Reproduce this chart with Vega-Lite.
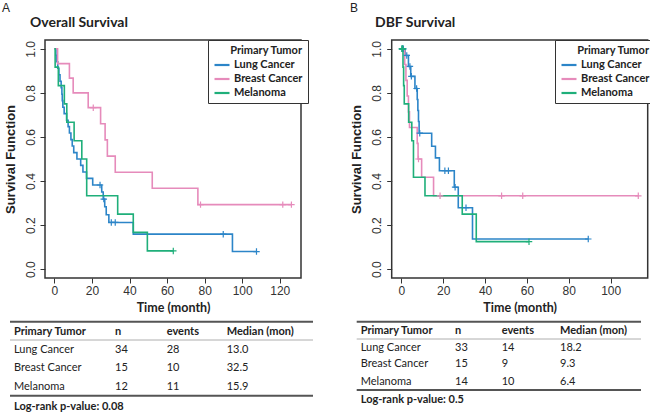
{
  "$schema": "https://vega.github.io/schema/vega-lite/v6.json",
  "width": 650,
  "height": 414,
  "padding": 0,
  "autosize": {"type": "none"},
  "background": "white",
  "config": {"view": {"stroke": null}, "font": "Lato", "axis": {"grid": false, "domain": false}},
  "datasets": {
    "osCurves": [
      {"group": "Lung Cancer", "time": 0, "surv": 1},
      {"group": "Lung Cancer", "time": 0.8, "surv": 0.971},
      {"group": "Lung Cancer", "time": 1.3, "surv": 0.941},
      {"group": "Lung Cancer", "time": 1.8, "surv": 0.912},
      {"group": "Lung Cancer", "time": 2.4, "surv": 0.882},
      {"group": "Lung Cancer", "time": 3.0, "surv": 0.853},
      {"group": "Lung Cancer", "time": 3.6, "surv": 0.824},
      {"group": "Lung Cancer", "time": 4.0, "surv": 0.794},
      {"group": "Lung Cancer", "time": 4.2, "surv": 0.765},
      {"group": "Lung Cancer", "time": 4.5, "surv": 0.735},
      {"group": "Lung Cancer", "time": 5.2, "surv": 0.706},
      {"group": "Lung Cancer", "time": 6.5, "surv": 0.676},
      {"group": "Lung Cancer", "time": 7.3, "surv": 0.647},
      {"group": "Lung Cancer", "time": 8.0, "surv": 0.618},
      {"group": "Lung Cancer", "time": 8.8, "surv": 0.588},
      {"group": "Lung Cancer", "time": 9.5, "surv": 0.559},
      {"group": "Lung Cancer", "time": 10.3, "surv": 0.529},
      {"group": "Lung Cancer", "time": 12.0, "surv": 0.5},
      {"group": "Lung Cancer", "time": 14.0, "surv": 0.471},
      {"group": "Lung Cancer", "time": 15.2, "surv": 0.441},
      {"group": "Lung Cancer", "time": 17.1, "surv": 0.412},
      {"group": "Lung Cancer", "time": 20.4, "surv": 0.382},
      {"group": "Lung Cancer", "time": 25.2, "surv": 0.35},
      {"group": "Lung Cancer", "time": 26.0, "surv": 0.318},
      {"group": "Lung Cancer", "time": 26.8, "surv": 0.283},
      {"group": "Lung Cancer", "time": 27.6, "surv": 0.247},
      {"group": "Lung Cancer", "time": 29.0, "surv": 0.212},
      {"group": "Lung Cancer", "time": 42.0, "surv": 0.159},
      {"group": "Lung Cancer", "time": 94.8, "surv": 0.08},
      {"group": "Lung Cancer", "time": 107.6, "surv": 0.08},
      {"group": "Breast Cancer", "time": 0, "surv": 1},
      {"group": "Breast Cancer", "time": 1.7, "surv": 0.933},
      {"group": "Breast Cancer", "time": 8.0, "surv": 0.867},
      {"group": "Breast Cancer", "time": 10.0, "surv": 0.8},
      {"group": "Breast Cancer", "time": 18.0, "surv": 0.733},
      {"group": "Breast Cancer", "time": 24.6, "surv": 0.66},
      {"group": "Breast Cancer", "time": 27.0, "surv": 0.587},
      {"group": "Breast Cancer", "time": 28.2, "surv": 0.513},
      {"group": "Breast Cancer", "time": 32.4, "surv": 0.44},
      {"group": "Breast Cancer", "time": 52.1, "surv": 0.367},
      {"group": "Breast Cancer", "time": 76.4, "surv": 0.293},
      {"group": "Breast Cancer", "time": 126.2, "surv": 0.293},
      {"group": "Melanoma", "time": 0, "surv": 1},
      {"group": "Melanoma", "time": 0.4, "surv": 0.917},
      {"group": "Melanoma", "time": 2.1, "surv": 0.833},
      {"group": "Melanoma", "time": 5.3, "surv": 0.75},
      {"group": "Melanoma", "time": 6.6, "surv": 0.667},
      {"group": "Melanoma", "time": 10.5, "surv": 0.583},
      {"group": "Melanoma", "time": 14.6, "surv": 0.5},
      {"group": "Melanoma", "time": 17.2, "surv": 0.333},
      {"group": "Melanoma", "time": 33.7, "surv": 0.25},
      {"group": "Melanoma", "time": 42.0, "surv": 0.167},
      {"group": "Melanoma", "time": 49.5, "surv": 0.083},
      {"group": "Melanoma", "time": 63.3, "surv": 0.083}
    ],
    "osCensor": [
      {"group": "Lung Cancer", "time": 24.3, "surv": 0.382},
      {"group": "Lung Cancer", "time": 26.3, "surv": 0.318},
      {"group": "Lung Cancer", "time": 30.3, "surv": 0.212},
      {"group": "Lung Cancer", "time": 32.4, "surv": 0.212},
      {"group": "Lung Cancer", "time": 89.9, "surv": 0.159},
      {"group": "Lung Cancer", "time": 107.6, "surv": 0.08},
      {"group": "Breast Cancer", "time": 20.7, "surv": 0.733},
      {"group": "Breast Cancer", "time": 77.8, "surv": 0.293},
      {"group": "Breast Cancer", "time": 121.6, "surv": 0.293},
      {"group": "Breast Cancer", "time": 126.2, "surv": 0.293},
      {"group": "Melanoma", "time": 63.3, "surv": 0.083}
    ],
    "dbfCurves": [
      {"group": "Lung Cancer", "time": 0, "surv": 1},
      {"group": "Lung Cancer", "time": 1.8, "surv": 0.97},
      {"group": "Lung Cancer", "time": 3.4, "surv": 0.92},
      {"group": "Lung Cancer", "time": 4.5, "surv": 0.875},
      {"group": "Lung Cancer", "time": 6.5, "surv": 0.82},
      {"group": "Lung Cancer", "time": 7.6, "surv": 0.77},
      {"group": "Lung Cancer", "time": 7.9, "surv": 0.72},
      {"group": "Lung Cancer", "time": 8.2, "surv": 0.67},
      {"group": "Lung Cancer", "time": 8.5, "surv": 0.617},
      {"group": "Lung Cancer", "time": 14.5, "surv": 0.558},
      {"group": "Lung Cancer", "time": 16.3, "surv": 0.505},
      {"group": "Lung Cancer", "time": 18.2, "surv": 0.447},
      {"group": "Lung Cancer", "time": 25.3, "surv": 0.372},
      {"group": "Lung Cancer", "time": 27.2, "surv": 0.279},
      {"group": "Lung Cancer", "time": 34.0, "surv": 0.137},
      {"group": "Lung Cancer", "time": 89.3, "surv": 0.137},
      {"group": "Breast Cancer", "time": 0, "surv": 1},
      {"group": "Breast Cancer", "time": 1.6, "surv": 0.929},
      {"group": "Breast Cancer", "time": 2.2, "surv": 0.857},
      {"group": "Breast Cancer", "time": 2.8, "surv": 0.786},
      {"group": "Breast Cancer", "time": 3.4, "surv": 0.714},
      {"group": "Breast Cancer", "time": 3.9, "surv": 0.643},
      {"group": "Breast Cancer", "time": 7.6, "surv": 0.571},
      {"group": "Breast Cancer", "time": 8.0, "surv": 0.5},
      {"group": "Breast Cancer", "time": 9.7, "surv": 0.417},
      {"group": "Breast Cancer", "time": 15.4, "surv": 0.333},
      {"group": "Breast Cancer", "time": 113.2, "surv": 0.333},
      {"group": "Melanoma", "time": 0, "surv": 1},
      {"group": "Melanoma", "time": 0.8, "surv": 0.917},
      {"group": "Melanoma", "time": 1.1, "surv": 0.833},
      {"group": "Melanoma", "time": 1.4, "surv": 0.75},
      {"group": "Melanoma", "time": 3.5, "surv": 0.667},
      {"group": "Melanoma", "time": 5.0, "surv": 0.583},
      {"group": "Melanoma", "time": 5.8, "surv": 0.417},
      {"group": "Melanoma", "time": 11.3, "surv": 0.333},
      {"group": "Melanoma", "time": 29.1, "surv": 0.25},
      {"group": "Melanoma", "time": 35.8, "surv": 0.125},
      {"group": "Melanoma", "time": 61.0, "surv": 0.125}
    ],
    "dbfCensor": [
      {"group": "Lung Cancer", "time": 0.3, "surv": 1},
      {"group": "Lung Cancer", "time": 0.6, "surv": 1},
      {"group": "Lung Cancer", "time": 1.0, "surv": 1},
      {"group": "Lung Cancer", "time": 2.6, "surv": 0.97},
      {"group": "Lung Cancer", "time": 4.1, "surv": 0.92},
      {"group": "Lung Cancer", "time": 4.8, "surv": 0.875},
      {"group": "Lung Cancer", "time": 7.3, "surv": 0.82},
      {"group": "Lung Cancer", "time": 8.8, "surv": 0.617},
      {"group": "Lung Cancer", "time": 20.8, "surv": 0.447},
      {"group": "Lung Cancer", "time": 22.5, "surv": 0.447},
      {"group": "Lung Cancer", "time": 25.7, "surv": 0.372},
      {"group": "Lung Cancer", "time": 30.9, "surv": 0.279},
      {"group": "Lung Cancer", "time": 89.3, "surv": 0.137},
      {"group": "Breast Cancer", "time": 8.2, "surv": 0.5},
      {"group": "Breast Cancer", "time": 18.5, "surv": 0.333},
      {"group": "Breast Cancer", "time": 47.9, "surv": 0.333},
      {"group": "Breast Cancer", "time": 58.0, "surv": 0.333},
      {"group": "Breast Cancer", "time": 113.2, "surv": 0.333},
      {"group": "Melanoma", "time": 0.3, "surv": 1},
      {"group": "Melanoma", "time": 0.5, "surv": 1},
      {"group": "Melanoma", "time": 0.7, "surv": 1},
      {"group": "Melanoma", "time": 61.0, "surv": 0.125}
    ],
    "tableA": [
      {"row": 0, "col": 0, "text": "Primary Tumor", "bold": true},
      {"row": 0, "col": 1, "text": "n", "bold": true},
      {"row": 0, "col": 2, "text": "events", "bold": true},
      {"row": 0, "col": 3, "text": "Median (mon)", "bold": true},
      {"row": 1, "col": 0, "text": "Lung Cancer", "bold": false},
      {"row": 1, "col": 1, "text": "34", "bold": false},
      {"row": 1, "col": 2, "text": "28", "bold": false},
      {"row": 1, "col": 3, "text": "13.0", "bold": false},
      {"row": 2, "col": 0, "text": "Breast Cancer", "bold": false},
      {"row": 2, "col": 1, "text": "15", "bold": false},
      {"row": 2, "col": 2, "text": "10", "bold": false},
      {"row": 2, "col": 3, "text": "32.5", "bold": false},
      {"row": 3, "col": 0, "text": "Melanoma", "bold": false},
      {"row": 3, "col": 1, "text": "12", "bold": false},
      {"row": 3, "col": 2, "text": "11", "bold": false},
      {"row": 3, "col": 3, "text": "15.9", "bold": false},
      {"row": 4, "col": 0, "text": "Log-rank p-value: 0.08", "bold": true}
    ],
    "tableB": [
      {"row": 0, "col": 0, "text": "Primary Tumor", "bold": true},
      {"row": 0, "col": 1, "text": "n", "bold": true},
      {"row": 0, "col": 2, "text": "events", "bold": true},
      {"row": 0, "col": 3, "text": "Median (mon)", "bold": true},
      {"row": 1, "col": 0, "text": "Lung Cancer", "bold": false},
      {"row": 1, "col": 1, "text": "33", "bold": false},
      {"row": 1, "col": 2, "text": "14", "bold": false},
      {"row": 1, "col": 3, "text": "18.2", "bold": false},
      {"row": 2, "col": 0, "text": "Breast Cancer", "bold": false},
      {"row": 2, "col": 1, "text": "15", "bold": false},
      {"row": 2, "col": 2, "text": "9", "bold": false},
      {"row": 2, "col": 3, "text": "9.3", "bold": false},
      {"row": 3, "col": 0, "text": "Melanoma", "bold": false},
      {"row": 3, "col": 1, "text": "14", "bold": false},
      {"row": 3, "col": 2, "text": "10", "bold": false},
      {"row": 3, "col": 3, "text": "6.4", "bold": false},
      {"row": 4, "col": 0, "text": "Log-rank p-value: 0.5", "bold": true}
    ],
    "rules": [
      {"line": 0, "weight": "thick"},
      {"line": 1, "weight": "thin"},
      {"line": 2, "weight": "thick"}
    ],
    "labels": [
      {"panel": 0, "kind": "letter", "text": "A"},
      {"panel": 0, "kind": "title", "text": "Overall Survival"},
      {"panel": 1, "kind": "letter", "text": "B"},
      {"panel": 1, "kind": "title", "text": "DBF Survival"}
    ]
  },
  "layer": [
    {
      "layer": [
        {
          "data": {"name": "osCurves"},
          "mark": {"type": "line", "interpolate": "step-after", "strokeWidth": 1.6},
          "encoding": {
            "x": {"field": "time", "type": "quantitative",
              "scale": {"domain": [-5, 131.3], "range": [45, 301], "nice": false, "zero": false},
              "axis": {"orient": "bottom", "offset": -136, "values": [0, 20, 40, 60, 80, 100, 120], "title": "Time (month)",
                "tickSize": 5, "tickColor": "#333", "labelPadding": 2, "labelFont": "Liberation Sans", "labelFontSize": 12, "labelColor": "#333",
                "titleFont": "Lato", "titleFontWeight": "bold", "titleFontSize": 12.5, "titleColor": "#222", "titlePadding": 5}},
            "y": {"field": "surv", "type": "quantitative",
              "scale": {"domain": [-0.04, 1.04], "range": [278, 40], "nice": false, "zero": false},
              "axis": {"orient": "left", "offset": -45, "values": [0, 0.2, 0.4, 0.6, 0.8, 1], "format": ".1f", "title": "Survival Function",
                "tickSize": 5, "tickColor": "#333", "labelAngle": -90, "labelAlign": "center", "labelBaseline": "bottom", "labelPadding": 3,
                "labelFont": "Liberation Sans", "labelFontSize": 12, "labelColor": "#333",
                "titleFont": "Liberation Sans", "titleFontWeight": "bold", "titleFontSize": 13, "titleColor": "#222", "titlePadding": 7}},
            "color": {"field": "group", "type": "nominal",
              "scale": {"domain": ["Lung Cancer", "Breast Cancer", "Melanoma"], "range": ["#2c85c8", "#e68bbb", "#1faf7a"]},
              "legend": {"orient": "none", "legendX": 208, "legendY": 40, "title": "Primary Tumor", "titleAnchor": "end",
                "titleFont": "Lato", "titleFontSize": 11, "titleFontWeight": "bold", "titleColor": "#222", "titlePadding": 0,
                "labelFont": "Lato", "labelFontSize": 11, "labelFontWeight": "bold", "labelColor": "#222", "labelOffset": 3,
                "symbolType": "stroke", "symbolSize": 225, "symbolStrokeWidth": 2.2, "rowPadding": -1, "padding": 5,
                "strokeColor": "#333", "fillColor": "white", "cornerRadius": 0}}
          }
        },
        {
          "data": {"name": "osCensor"},
          "mark": {"type": "point", "shape": "M0,-1V1M-1,0H1", "filled": false, "size": 42, "strokeWidth": 1.2, "opacity": 1},
          "encoding": {
            "x": {"field": "time", "type": "quantitative"},
            "y": {"field": "surv", "type": "quantitative"},
            "color": {"field": "group", "type": "nominal", "legend": null}
          }
        },
        {
          "data": {"values": [{"box": 1}]},
          "mark": {"type": "rect", "filled": false, "stroke": "#333", "strokeWidth": 1.5},
          "encoding": {
            "x": {"datum": -5, "type": "quantitative"},
            "x2": {"datum": 131.3},
            "y": {"datum": -0.04, "type": "quantitative"},
            "y2": {"datum": 1.04}
          }
        }
      ]
    },
    {
      "layer": [
        {
          "data": {"name": "dbfCurves"},
          "mark": {"type": "line", "interpolate": "step-after", "strokeWidth": 1.6},
          "encoding": {
            "x": {"field": "time", "type": "quantitative",
              "scale": {"domain": [-4.6, 117.7], "range": [391.7, 647.7], "nice": false, "zero": false},
              "axis": {"orient": "bottom", "offset": -136, "values": [0, 20, 40, 60, 80, 100], "title": "Time (month)",
                "tickSize": 5, "tickColor": "#333", "labelPadding": 2, "labelFont": "Liberation Sans", "labelFontSize": 12, "labelColor": "#333",
                "titleFont": "Lato", "titleFontWeight": "bold", "titleFontSize": 12.5, "titleColor": "#222", "titlePadding": 5}},
            "y": {"field": "surv", "type": "quantitative",
              "scale": {"domain": [-0.04, 1.04], "range": [278, 40], "nice": false, "zero": false},
              "axis": {"orient": "left", "offset": -391.7, "values": [0, 0.2, 0.4, 0.6, 0.8, 1], "format": ".1f", "title": "Survival Function",
                "tickSize": 5, "tickColor": "#333", "labelAngle": -90, "labelAlign": "center", "labelBaseline": "bottom", "labelPadding": 3,
                "labelFont": "Liberation Sans", "labelFontSize": 12, "labelColor": "#333",
                "titleFont": "Liberation Sans", "titleFontWeight": "bold", "titleFontSize": 13, "titleColor": "#222", "titlePadding": 7}},
            "color": {"field": "group", "type": "nominal",
              "scale": {"domain": ["Lung Cancer", "Breast Cancer", "Melanoma"], "range": ["#2c85c8", "#e68bbb", "#1faf7a"]},
              "legend": {"orient": "none", "legendX": 555, "legendY": 40, "title": "Primary Tumor", "titleAnchor": "end",
                "titleFont": "Lato", "titleFontSize": 11, "titleFontWeight": "bold", "titleColor": "#222", "titlePadding": 0,
                "labelFont": "Lato", "labelFontSize": 11, "labelFontWeight": "bold", "labelColor": "#222", "labelOffset": 3,
                "symbolType": "stroke", "symbolSize": 225, "symbolStrokeWidth": 2.2, "rowPadding": -1, "padding": 5,
                "strokeColor": "#333", "fillColor": "white", "cornerRadius": 0}}
          }
        },
        {
          "data": {"name": "dbfCensor"},
          "mark": {"type": "point", "shape": "M0,-1V1M-1,0H1", "filled": false, "size": 42, "strokeWidth": 1.2, "opacity": 1},
          "encoding": {
            "x": {"field": "time", "type": "quantitative"},
            "y": {"field": "surv", "type": "quantitative"},
            "color": {"field": "group", "type": "nominal", "legend": null}
          }
        },
        {
          "data": {"values": [{"box": 1}]},
          "mark": {"type": "rect", "filled": false, "stroke": "#333", "strokeWidth": 1.5},
          "encoding": {
            "x": {"datum": -4.6, "type": "quantitative"},
            "x2": {"datum": 117.7},
            "y": {"datum": -0.04, "type": "quantitative"},
            "y2": {"datum": 1.04}
          }
        }
      ]
    },
    {
      "data": {"name": "tableA"},
      "layer": [
        {
          "transform": [{"filter": "!datum.bold"}],
          "mark": {"type": "text", "align": "left", "baseline": "middle", "font": "Lato", "fontSize": 11, "color": "#222"},
          "encoding": {
            "x": {"field": "col", "type": "quantitative", "scale": {"domain": [0, 1, 2, 3], "range": [14, 115, 166.7, 226.7], "zero": false, "nice": false}, "axis": null},
            "y": {"field": "row", "type": "quantitative", "scale": {"domain": [0, 1, 2, 3, 4], "range": [332, 350, 368.3, 386.7, 406.7], "zero": false, "nice": false}, "axis": null},
            "text": {"field": "text"}
          }
        },
        {
          "transform": [{"filter": "datum.bold"}],
          "mark": {"type": "text", "align": "left", "baseline": "middle", "font": "Lato", "fontSize": 11, "fontWeight": "bold", "color": "#222"},
          "encoding": {
            "x": {"field": "col", "type": "quantitative", "scale": {"domain": [0, 1, 2, 3], "range": [14, 115, 166.7, 226.7], "zero": false, "nice": false}, "axis": null},
            "y": {"field": "row", "type": "quantitative", "scale": {"domain": [0, 1, 2, 3, 4], "range": [332, 350, 368.3, 386.7, 406.7], "zero": false, "nice": false}, "axis": null},
            "text": {"field": "text"}
          }
        }
      ]
    },
    {
      "data": {"name": "rules"},
      "mark": {"type": "rule"},
      "encoding": {
        "x": {"datum": 0, "type": "quantitative", "scale": {"domain": [0, 1], "range": [10, 313], "zero": false, "nice": false}, "axis": null},
        "x2": {"datum": 1},
        "y": {"field": "line", "type": "quantitative", "scale": {"domain": [0, 1, 2], "range": [321.7, 340, 395.7], "zero": false, "nice": false}, "axis": null},
        "strokeWidth": {"field": "weight", "type": "nominal", "scale": {"domain": ["thick", "thin"], "range": [2, 0.8]}, "legend": null},
        "color": {"field": "weight", "type": "nominal", "scale": {"domain": ["thick", "thin"], "range": ["#555", "#999"]}, "legend": null}
      }
    },
    {
      "data": {"name": "tableB"},
      "layer": [
        {
          "transform": [{"filter": "!datum.bold"}],
          "mark": {"type": "text", "align": "left", "baseline": "middle", "font": "Lato", "fontSize": 11, "color": "#222"},
          "encoding": {
            "x": {"field": "col", "type": "quantitative", "scale": {"domain": [0, 1, 2, 3], "range": [360.7, 455, 501.7, 560], "zero": false, "nice": false}, "axis": null},
            "y": {"field": "row", "type": "quantitative", "scale": {"domain": [0, 1, 2, 3, 4], "range": [331, 347.7, 364.3, 381.7, 400], "zero": false, "nice": false}, "axis": null},
            "text": {"field": "text"}
          }
        },
        {
          "transform": [{"filter": "datum.bold"}],
          "mark": {"type": "text", "align": "left", "baseline": "middle", "font": "Lato", "fontSize": 11, "fontWeight": "bold", "color": "#222"},
          "encoding": {
            "x": {"field": "col", "type": "quantitative", "scale": {"domain": [0, 1, 2, 3], "range": [360.7, 455, 501.7, 560], "zero": false, "nice": false}, "axis": null},
            "y": {"field": "row", "type": "quantitative", "scale": {"domain": [0, 1, 2, 3, 4], "range": [331, 347.7, 364.3, 381.7, 400], "zero": false, "nice": false}, "axis": null},
            "text": {"field": "text"}
          }
        }
      ]
    },
    {
      "data": {"name": "rules"},
      "mark": {"type": "rule"},
      "encoding": {
        "x": {"datum": 0, "type": "quantitative", "scale": {"domain": [0, 1], "range": [356.7, 641], "zero": false, "nice": false}, "axis": null},
        "x2": {"datum": 1},
        "y": {"field": "line", "type": "quantitative", "scale": {"domain": [0, 1, 2], "range": [321.7, 339, 390], "zero": false, "nice": false}, "axis": null},
        "strokeWidth": {"field": "weight", "type": "nominal", "scale": {"domain": ["thick", "thin"], "range": [2, 0.8]}, "legend": null},
        "color": {"field": "weight", "type": "nominal", "scale": {"domain": ["thick", "thin"], "range": ["#555", "#999"]}, "legend": null}
      }
    },
    {
      "data": {"name": "labels"},
      "transform": [{"filter": "datum.kind === 'letter'"}],
      "mark": {"type": "text", "align": "left", "baseline": "alphabetic", "font": "Liberation Sans", "fontSize": 12, "color": "#222"},
      "encoding": {
        "x": {"field": "panel", "type": "quantitative", "scale": {"domain": [0, 1], "range": [2, 350], "zero": false, "nice": false}, "axis": null},
        "y": {"field": "kind", "type": "nominal", "scale": {"type": "point", "domain": ["letter", "title"], "range": [11.7, 26.5], "padding": 0}, "axis": null},
        "text": {"field": "text"}
      }
    },
    {
      "data": {"name": "labels"},
      "transform": [{"filter": "datum.kind === 'title'"}],
      "mark": {"type": "text", "align": "left", "baseline": "alphabetic", "font": "Lato", "fontSize": 14, "fontWeight": "bold", "color": "#222"},
      "encoding": {
        "x": {"field": "panel", "type": "quantitative", "scale": {"domain": [0, 1], "range": [30, 375], "zero": false, "nice": false}, "axis": null},
        "y": {"field": "kind", "type": "nominal", "scale": {"type": "point", "domain": ["letter", "title"], "range": [11.7, 26.5], "padding": 0}, "axis": null},
        "text": {"field": "text"}
      }
    }
  ],
  "resolve": {
    "scale": {"x": "independent", "y": "independent", "color": "independent", "strokeWidth": "independent"},
    "axis": {"x": "independent", "y": "independent"},
    "legend": {"color": "independent", "strokeWidth": "independent"}
  }
}
